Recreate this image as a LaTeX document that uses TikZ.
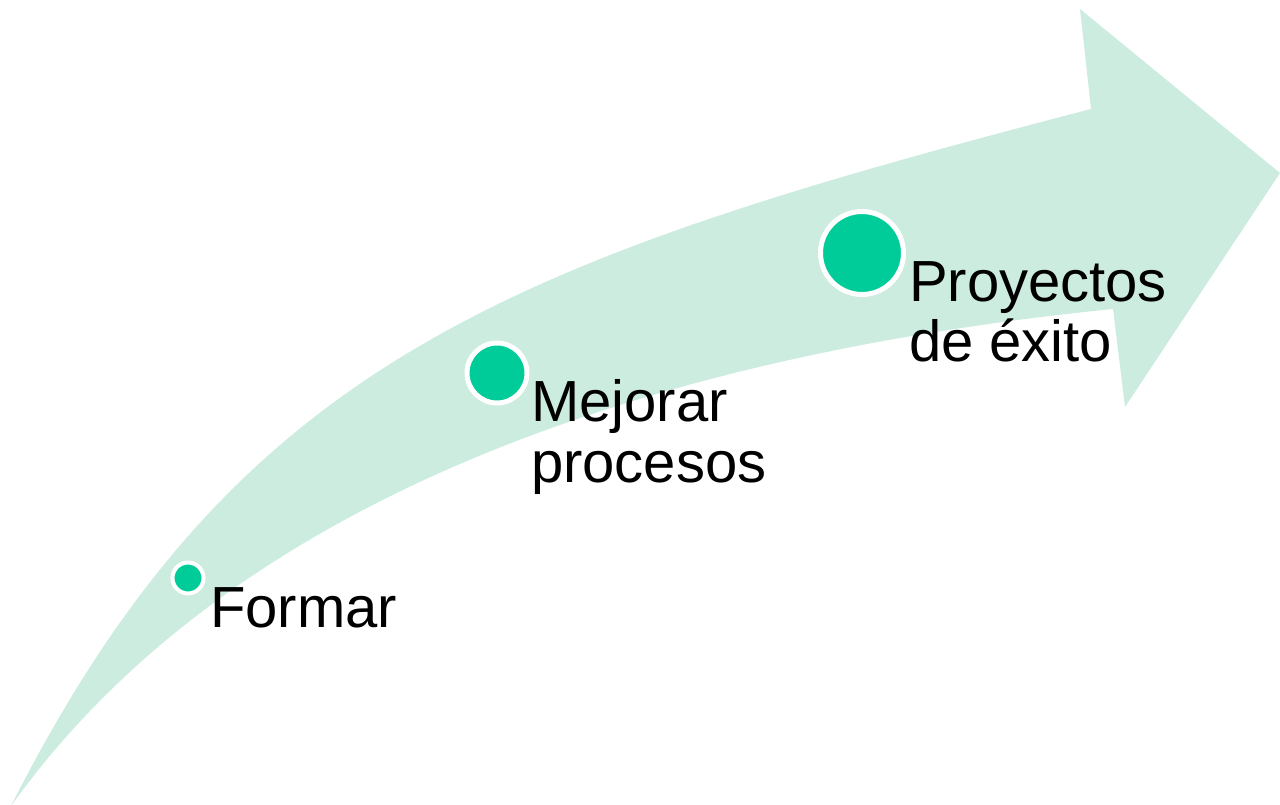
\documentclass[tikz,border=0pt]{standalone}
\usepackage{fontspec}
\setmainfont{Liberation Sans}
\definecolor{bandgreen}{HTML}{CCECDF}
\definecolor{dotgreen}{HTML}{00CC99}
\begin{document}
\begin{tikzpicture}[x=1pt,y=-1pt,
  band/.style={fill=bandgreen},
  dot/.style={circle,fill=dotgreen,draw=white,inner sep=0pt,outer sep=0pt},
  label/.style={anchor=base west,inner sep=0pt,outer sep=0pt,font=\fontsize{58}{61}\selectfont}]
\useasboundingbox (0,0) rectangle (1280,805);
% arrow
\fill[band] (11,806) .. controls (236,361) and (510,260) .. (1091,109)
  -- (1080,9) -- (1280,173) -- (1125,407) -- (1113,309)
  .. controls (640,356.5) and (228.5,502) .. (11,806)
  -- cycle;
% dots
\node[dot,line width=4pt,minimum size=31pt] (d1) at (188,578) {};
\node[dot,line width=5pt,minimum size=60pt] (d2) at (497,373) {};
\node[dot,line width=5pt,minimum size=83pt] (d3) at (862,253) {};
% labels
\node[label] (t1) at (210,627) {Formar};
\node[label] (t2) at (531,421) {\vtop{\hbox{Mejorar}\hbox{procesos}}};
\node[label] (t3) at (909,301) {\vtop{\hbox{Proyectos}\hbox{de éxito}}};
\end{tikzpicture}
\end{document}
